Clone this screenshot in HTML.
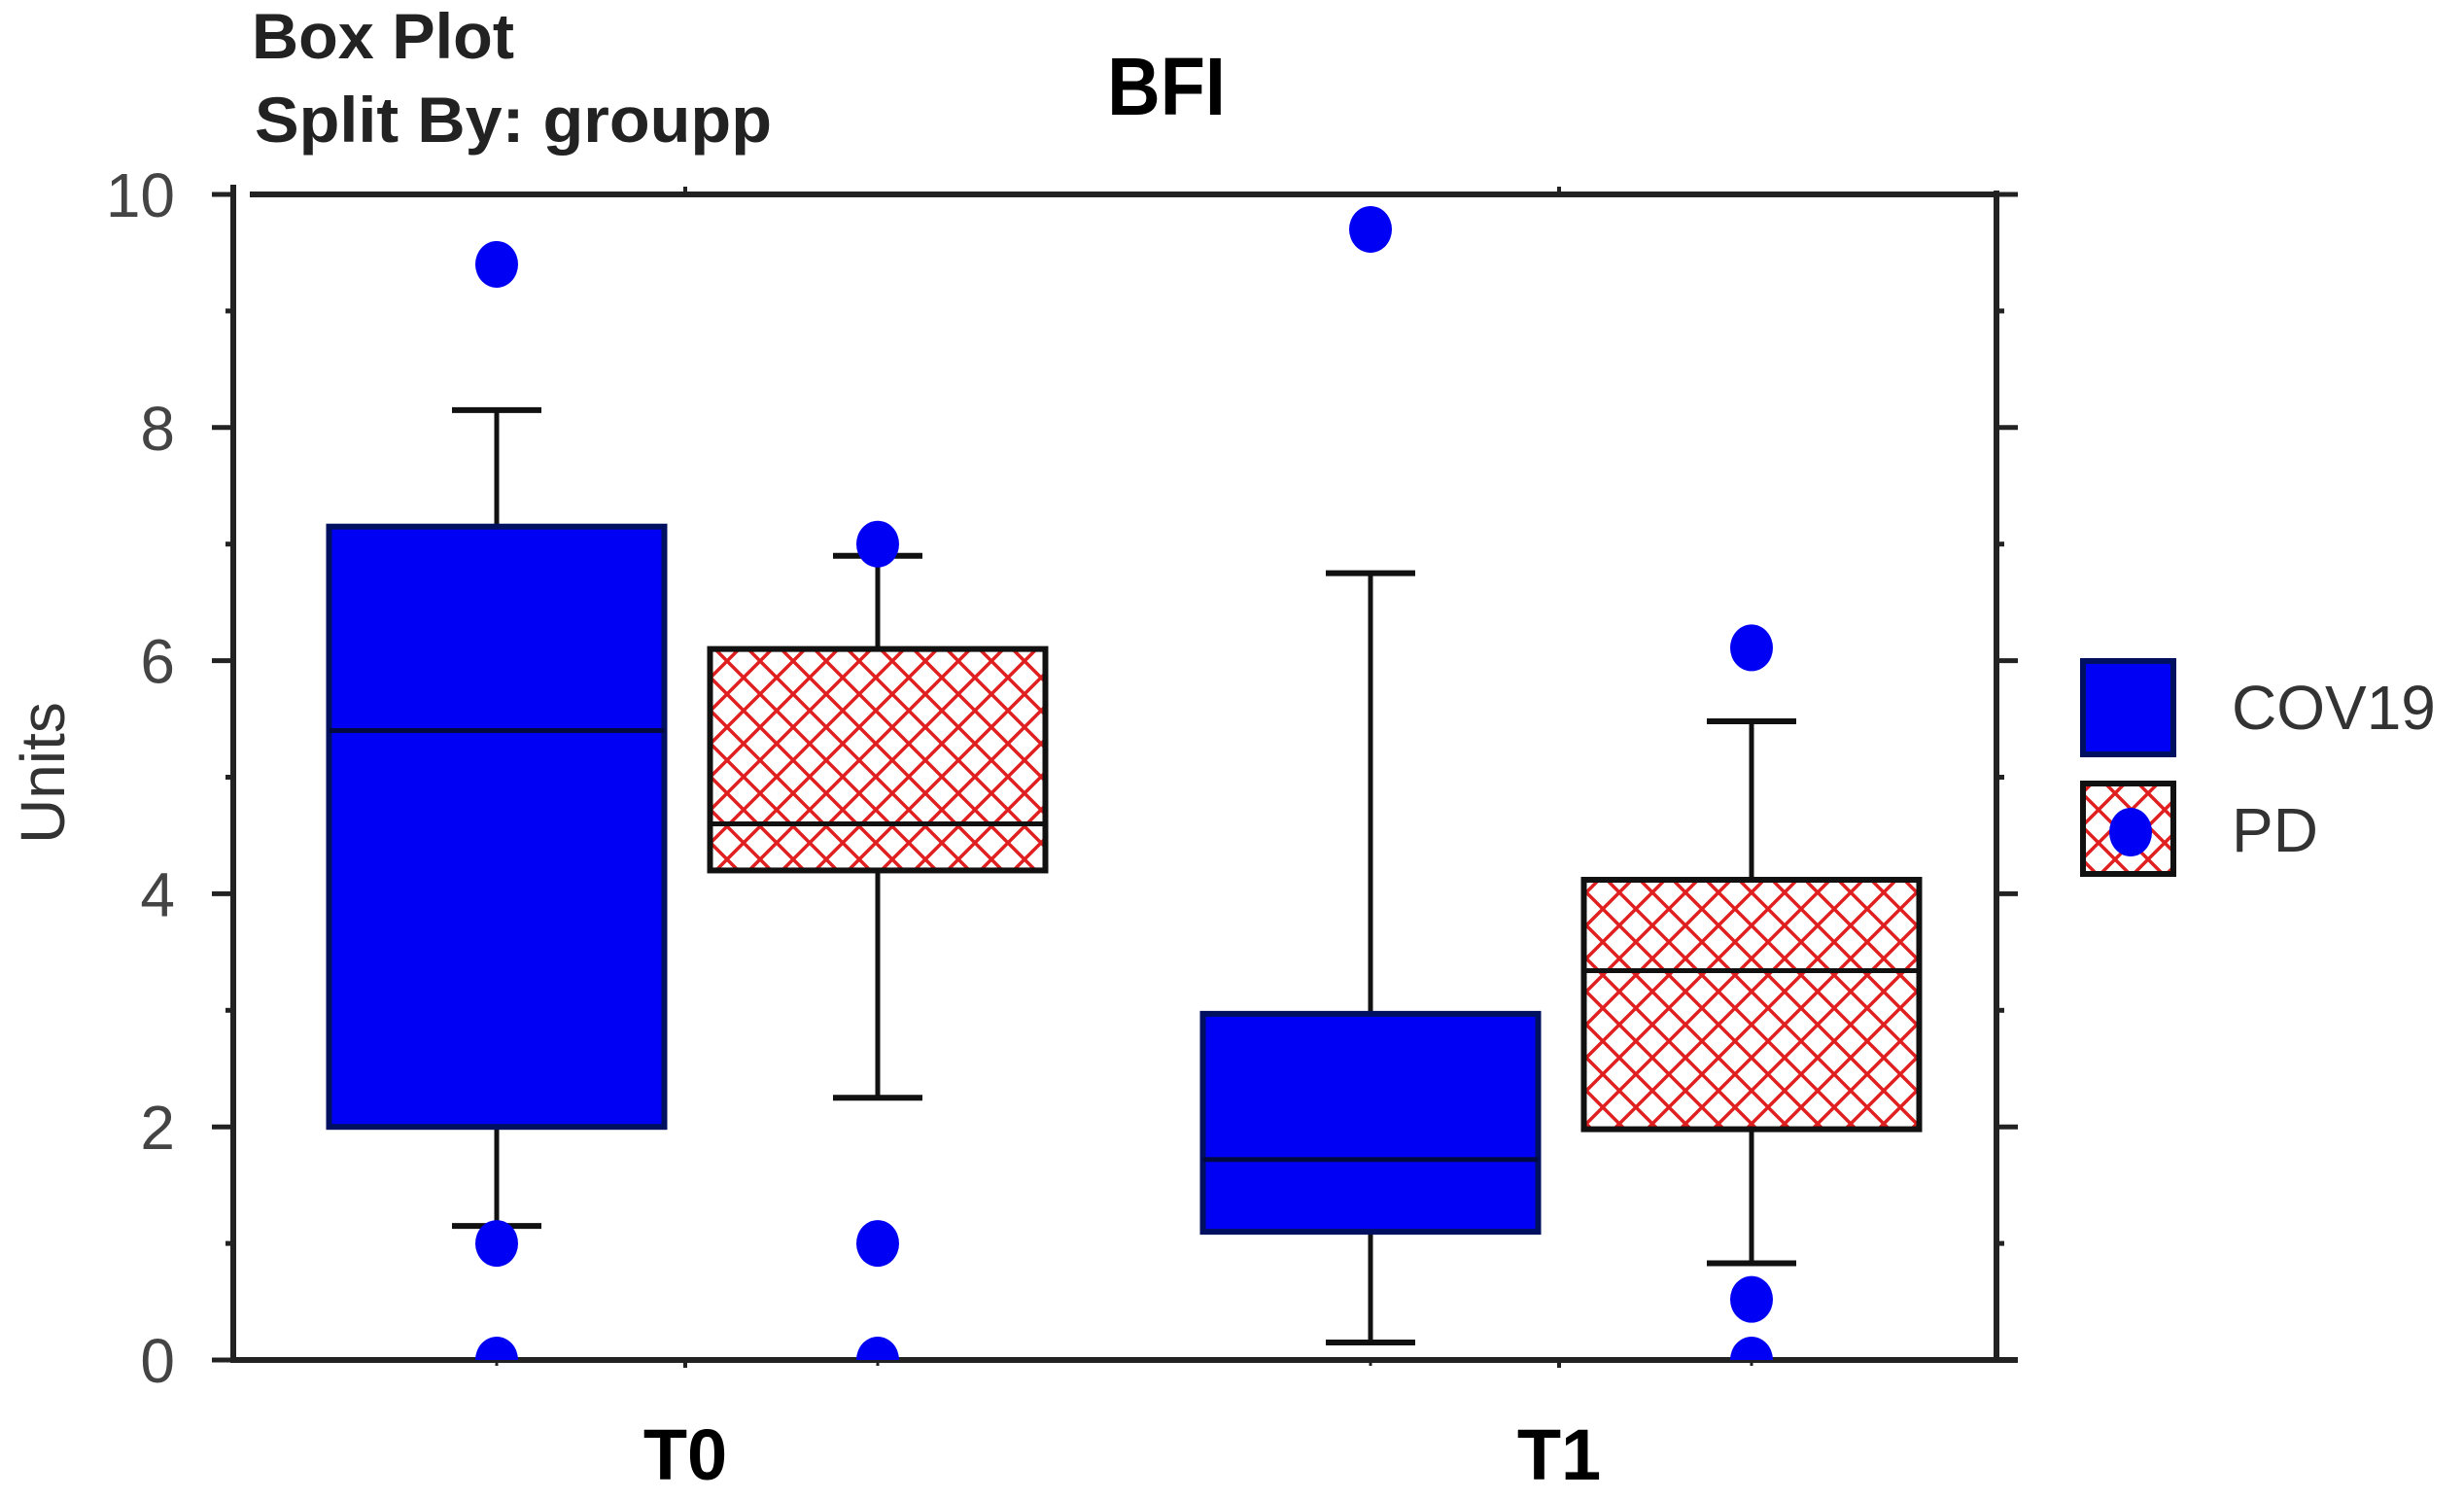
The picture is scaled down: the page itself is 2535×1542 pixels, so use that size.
<!DOCTYPE html>
<html><head><meta charset="utf-8"><style>
html,body{margin:0;padding:0;background:#fff;}
svg{display:block;}
text{font-family:"Liberation Sans",sans-serif;}
</style></head><body>
<svg id="chart" width="2535" height="1542" viewBox="0 0 2535 1542" xmlns="http://www.w3.org/2000/svg">
<defs>
<pattern id="hatch" patternUnits="userSpaceOnUse" width="34" height="34">
<rect width="34" height="34" fill="#fff"/>
<path d="M0 0L34 34M34 0L0 34" stroke="#e02020" stroke-width="3.5"/>
</pattern>
<clipPath id="plotclip"><rect x="240" y="150" width="1814" height="1249"/></clipPath>
</defs>
<text x="259" y="60" font-size="66" font-weight="bold" fill="#222" textLength="270" lengthAdjust="spacingAndGlyphs">Box Plot</text>
<text x="262" y="146" font-size="66" font-weight="bold" fill="#222" textLength="532" lengthAdjust="spacingAndGlyphs">Split By: groupp</text>
<text x="1200" y="118" font-size="84" font-weight="bold" text-anchor="middle" fill="#000" transform="scale(0.9,1)" transform-origin="1200 118">BFI</text>
<text x="0" y="0" font-size="64" fill="#333" text-anchor="middle" transform="translate(66,795) rotate(-90)">Units</text>
<g id="axes"></g>
<g id="marks"></g>
<g id="legend">
<rect x="2143" y="680" width="93" height="96" fill="#0000f5" stroke="#001060" stroke-width="6"/>
<text x="2296" y="750" font-size="64" fill="#333">COV19</text>
<rect x="2143" y="806" width="93" height="93" fill="url(#hatch)" stroke="#111" stroke-width="6"/>
<ellipse cx="2192" cy="856" rx="22" ry="25" fill="#0000f5"/>
<text x="2296" y="876" font-size="64" fill="#333">PD</text>
</g>
</svg>
<script>
const timepoints = ["T0", "T1"];
const groups = ["COV19", "PD"];
const whiskerLow = [[1.15, 2.25], [0.15, 0.83]];
const q1 = [[2.0, 4.2], [1.1, 1.98]];
const median = [[5.4, 4.6], [1.72, 3.34]];
const q3 = [[7.15, 6.1], [2.97, 4.12]];
const whiskerHigh = [[8.15, 6.9], [6.75, 5.48]];
const outliers = [[[9.4, 1.0, 0], [7.0, 1.0, 0]], [[9.7], [6.11, 0.52, 0]]];
const yTicks = [0, 2, 4, 6, 8, 10];
const yMinor = [1, 3, 5, 7, 9];

const NS = "http://www.w3.org/2000/svg";
const X0 = 240, X1 = 2054, Y0 = 1399, Y1 = 200;
function yScale(v){ return Y0 - (v - 0) / (10 - 0) * (Y0 - Y1); }
const catCenters = [705, 1604];
const groupOffset = [-194, 198];
const boxW = 345;
function xScale(ti, gi){ return catCenters[ti] + groupOffset[gi]; }
function mk(tag, attrs, parent){ const e = document.createElementNS(NS, tag); for (const k in attrs) e.setAttribute(k, attrs[k]); parent.appendChild(e); return e; }

const marks = document.getElementById('marks');
const axes = document.getElementById('axes');

for (let t = 0; t < timepoints.length; t++) {
  for (let g = 0; g < groups.length; g++) {
    const cx = xScale(t, g);
    const wl = mk('line', {x1: cx, x2: cx, y1: yScale(whiskerLow[t][g]), y2: yScale(q1[t][g]), stroke: '#111', 'stroke-width': 5}, marks);
    
    
    const wh = mk('line', {x1: cx, x2: cx, y1: yScale(whiskerHigh[t][g]), y2: yScale(q3[t][g]), stroke: '#111', 'stroke-width': 5}, marks);
    
    
    const cl = mk('line', {x1: cx - 46, x2: cx + 46, y1: yScale(whiskerLow[t][g]), y2: yScale(whiskerLow[t][g]), stroke: '#111', 'stroke-width': 6}, marks);
    
    
    const ch = mk('line', {x1: cx - 46, x2: cx + 46, y1: yScale(whiskerHigh[t][g]), y2: yScale(whiskerHigh[t][g]), stroke: '#111', 'stroke-width': 6}, marks);
    
    
    const b = mk('rect', {x: cx - boxW/2, y: yScale(q3[t][g]), width: boxW, height: yScale(q1[t][g]) - yScale(q3[t][g]), fill: g === 0 ? '#0000f5' : 'url(#hatch)', stroke: g === 0 ? '#001060' : '#111', 'stroke-width': 6}, marks);
    
    
    const m = mk('line', {x1: cx - boxW/2, x2: cx + boxW/2, y1: yScale(median[t][g]), y2: yScale(median[t][g]), stroke: g === 0 ? '#000a40' : '#111', 'stroke-width': 5}, marks);
    
    
    for (const o of outliers[t][g]) {
      const p = mk('ellipse', {cx: cx, cy: yScale(o), rx: 22, ry: 24, fill: '#0000f5', 'clip-path': 'url(#plotclip)'}, marks);
      
      
    }
  }
}

const frame = [
  [X0, Y1 - 10, X0, Y0 + 3, 'y-axis-line'],
  [X0 + 17, Y1, X1, Y1, 'top-frame-line'],
  [X1, Y1 - 4, X1, Y0 + 3, 'right-axis-line'],
  [X0, Y0, X1 + 22, Y0, 'x-axis-line']
];
for (const f of frame) {
  const l = mk('line', {x1: f[0], y1: f[1], x2: f[2], y2: f[3], stroke: '#222', 'stroke-width': 6}, axes);
  
  
}
for (const v of yTicks) {
  const y = yScale(v);
  const tl = mk('line', {x1: X0 - 22, x2: X0, y1: y, y2: y, stroke: '#222', 'stroke-width': 5}, axes);
  
  
  const tr = mk('line', {x1: X1, x2: X1 + 22, y1: y, y2: y, stroke: '#222', 'stroke-width': 5}, axes);
  
  
  const lab = mk('text', {x: 180, y: y + 23, 'font-size': 64, fill: '#444', 'text-anchor': 'end'}, axes);
  lab.textContent = String(v);
  
  
}
for (const v of yMinor) {
  const y = yScale(v);
  const a = mk('line', {x1: X0 - 8, x2: X0, y1: y, y2: y, stroke: '#222', 'stroke-width': 5}, axes);
  
  
  const b = mk('line', {x1: X1, x2: X1 + 8, y1: y, y2: y, stroke: '#222', 'stroke-width': 5}, axes);
  
  
}
for (let t = 0; t < timepoints.length; t++) {
  const cx = catCenters[t];
  const a = mk('line', {x1: cx, x2: cx, y1: Y0, y2: Y0 + 8, stroke: '#222', 'stroke-width': 4}, axes);
  
  
  const b = mk('line', {x1: cx, x2: cx, y1: Y1, y2: Y1 - 8, stroke: '#222', 'stroke-width': 4}, axes);
  
  
  for (const g of [0, 1]) {
    const sx = xScale(t, g);
    const s = mk('line', {x1: sx, x2: sx, y1: Y0, y2: Y0 + 6, stroke: '#222', 'stroke-width': 3}, axes);
    
    
  }
  const lab = mk('text', {x: cx, y: 1522, 'font-size': 74, 'font-weight': 'bold', fill: '#000', 'text-anchor': 'middle'}, axes);
  lab.textContent = timepoints[t];
  
  
}
</script>
</body></html>
